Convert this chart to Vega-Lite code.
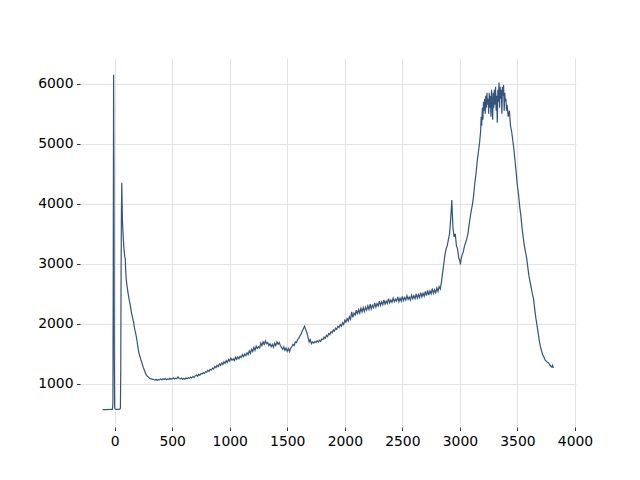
{
"$schema": "https://vega.github.io/schema/vega-lite/v6.json",
"width": 496, "height": 369,
"autosize": {"type": "none"},
"padding": {"left": 80, "top": 58, "right": 64, "bottom": 53},
"background": "white",
"config": {"view": {"stroke": null}, "font": "DejaVu Sans"},
"data": {"values": [
{"x":-105,"y":572},{"x":-95,"y":574},{"x":-85,"y":573},{"x":-75,"y":575},{"x":-65,"y":574},{"x":-55,"y":576},{"x":-45,"y":575},{"x":-35,"y":577},{"x":-25,"y":578},{"x":-18,"y":580},{"x":-15,"y":700},{"x":-12,"y":3000},{"x":-9,"y":6150},{"x":-6,"y":4500},{"x":-3,"y":1500},{"x":0,"y":620},{"x":3,"y":585},{"x":8,"y":580},{"x":15,"y":578},{"x":25,"y":577},{"x":35,"y":578},{"x":45,"y":580},{"x":50,"y":600},{"x":53,"y":1200},{"x":56,"y":2800},{"x":59,"y":3900},{"x":62,"y":4352},{"x":65,"y":4000},{"x":68,"y":3700},{"x":72,"y":3550},{"x":76,"y":3400},{"x":80,"y":3280},{"x":84,"y":3200},{"x":88,"y":3120},{"x":92,"y":3090},{"x":96,"y":2900},{"x":100,"y":2760},{"x":104,"y":2690},{"x":110,"y":2600},{"x":116,"y":2520},{"x":122,"y":2450},{"x":128,"y":2390},{"x":134,"y":2330},{"x":140,"y":2260},{"x":146,"y":2190},{"x":152,"y":2140},{"x":158,"y":2090},{"x":164,"y":2040},{"x":170,"y":1960},{"x":176,"y":1900},{"x":182,"y":1850},{"x":188,"y":1790},{"x":194,"y":1720},{"x":200,"y":1640},{"x":206,"y":1570},{"x":212,"y":1510},{"x":218,"y":1470},{"x":224,"y":1430},{"x":230,"y":1390},{"x":236,"y":1360},{"x":242,"y":1320},{"x":248,"y":1280},{"x":254,"y":1250},{"x":260,"y":1220},{"x":266,"y":1190},{"x":272,"y":1160},{"x":278,"y":1145},{"x":284,"y":1130},{"x":290,"y":1120},{"x":296,"y":1110},{"x":302,"y":1100},{"x":310,"y":1090},{"x":318,"y":1085},{"x":326,"y":1080},{"x":334,"y":1078},{"x":342,"y":1070},{"x":350,"y":1065},{"x":360,"y":1080},{"x":370,"y":1060},{"x":380,"y":1075},{"x":390,"y":1068},{"x":400,"y":1082},{"x":410,"y":1070},{"x":420,"y":1088},{"x":430,"y":1075},{"x":440,"y":1090},{"x":450,"y":1072},{"x":460,"y":1085},{"x":470,"y":1078},{"x":480,"y":1095},{"x":490,"y":1080},{"x":500,"y":1090},{"x":510,"y":1100},{"x":520,"y":1085},{"x":530,"y":1098},{"x":540,"y":1088},{"x":550,"y":1120},{"x":560,"y":1090},{"x":570,"y":1085},{"x":580,"y":1098},{"x":590,"y":1078},{"x":600,"y":1092},{"x":610,"y":1080},{"x":620,"y":1100},{"x":630,"y":1088},{"x":640,"y":1105},{"x":650,"y":1095},{"x":660,"y":1115},{"x":670,"y":1100},{"x":680,"y":1125},{"x":690,"y":1110},{"x":700,"y":1135},{"x":710,"y":1150},{"x":720,"y":1130},{"x":730,"y":1160},{"x":740,"y":1145},{"x":750,"y":1175},{"x":760,"y":1165},{"x":770,"y":1190},{"x":780,"y":1175},{"x":790,"y":1205},{"x":800,"y":1195},{"x":810,"y":1230},{"x":820,"y":1210},{"x":830,"y":1245},{"x":840,"y":1230},{"x":850,"y":1265},{"x":860,"y":1250},{"x":870,"y":1290},{"x":880,"y":1270},{"x":890,"y":1310},{"x":900,"y":1290},{"x":910,"y":1335},{"x":920,"y":1310},{"x":930,"y":1350},{"x":940,"y":1325},{"x":950,"y":1370},{"x":960,"y":1345},{"x":970,"y":1390},{"x":980,"y":1360},{"x":990,"y":1410},{"x":1000,"y":1380},{"x":1010,"y":1430},{"x":1020,"y":1395},{"x":1030,"y":1420},{"x":1040,"y":1390},{"x":1050,"y":1445},{"x":1060,"y":1410},{"x":1070,"y":1450},{"x":1080,"y":1420},{"x":1090,"y":1465},{"x":1100,"y":1440},{"x":1110,"y":1490},{"x":1120,"y":1455},{"x":1130,"y":1500},{"x":1140,"y":1470},{"x":1150,"y":1520},{"x":1160,"y":1490},{"x":1170,"y":1550},{"x":1180,"y":1510},{"x":1190,"y":1580},{"x":1200,"y":1540},{"x":1210,"y":1610},{"x":1220,"y":1560},{"x":1230,"y":1630},{"x":1240,"y":1590},{"x":1250,"y":1620},{"x":1260,"y":1600},{"x":1270,"y":1680},{"x":1280,"y":1640},{"x":1290,"y":1700},{"x":1300,"y":1660},{"x":1310,"y":1720},{"x":1320,"y":1670},{"x":1330,"y":1690},{"x":1340,"y":1640},{"x":1350,"y":1670},{"x":1360,"y":1620},{"x":1370,"y":1660},{"x":1380,"y":1610},{"x":1390,"y":1680},{"x":1400,"y":1640},{"x":1410,"y":1700},{"x":1420,"y":1660},{"x":1430,"y":1690},{"x":1440,"y":1640},{"x":1450,"y":1610},{"x":1460,"y":1580},{"x":1470,"y":1620},{"x":1480,"y":1560},{"x":1490,"y":1600},{"x":1500,"y":1545},{"x":1510,"y":1590},{"x":1520,"y":1540},{"x":1530,"y":1600},{"x":1540,"y":1620},{"x":1550,"y":1660},{"x":1560,"y":1640},{"x":1570,"y":1700},{"x":1580,"y":1690},{"x":1590,"y":1740},{"x":1600,"y":1760},{"x":1610,"y":1800},{"x":1620,"y":1830},{"x":1630,"y":1880},{"x":1640,"y":1920},{"x":1650,"y":1960},{"x":1660,"y":1910},{"x":1670,"y":1860},{"x":1680,"y":1780},{"x":1690,"y":1700},{"x":1700,"y":1740},{"x":1710,"y":1670},{"x":1720,"y":1700},{"x":1730,"y":1680},{"x":1740,"y":1710},{"x":1750,"y":1690},{"x":1760,"y":1720},{"x":1770,"y":1700},{"x":1780,"y":1730},{"x":1790,"y":1710},{"x":1800,"y":1750},{"x":1810,"y":1740},{"x":1820,"y":1780},{"x":1830,"y":1760},{"x":1840,"y":1810},{"x":1850,"y":1790},{"x":1860,"y":1840},{"x":1870,"y":1820},{"x":1880,"y":1870},{"x":1890,"y":1850},{"x":1900,"y":1900},{"x":1910,"y":1880},{"x":1920,"y":1930},{"x":1930,"y":1910},{"x":1940,"y":1960},{"x":1950,"y":1940},{"x":1960,"y":1990},{"x":1970,"y":1960},{"x":1980,"y":2020},{"x":1990,"y":1990},{"x":2000,"y":2060},{"x":2010,"y":2030},{"x":2020,"y":2090},{"x":2030,"y":2050},{"x":2040,"y":2120},{"x":2050,"y":2080},{"x":2060,"y":2200},{"x":2070,"y":2110},{"x":2080,"y":2180},{"x":2090,"y":2150},{"x":2100,"y":2230},{"x":2110,"y":2160},{"x":2120,"y":2240},{"x":2130,"y":2180},{"x":2140,"y":2260},{"x":2150,"y":2200},{"x":2160,"y":2270},{"x":2170,"y":2210},{"x":2180,"y":2280},{"x":2190,"y":2230},{"x":2200,"y":2300},{"x":2210,"y":2240},{"x":2220,"y":2330},{"x":2230,"y":2250},{"x":2240,"y":2310},{"x":2250,"y":2270},{"x":2260,"y":2350},{"x":2270,"y":2280},{"x":2280,"y":2340},{"x":2290,"y":2300},{"x":2300,"y":2380},{"x":2310,"y":2310},{"x":2320,"y":2370},{"x":2330,"y":2320},{"x":2340,"y":2400},{"x":2350,"y":2330},{"x":2360,"y":2380},{"x":2370,"y":2340},{"x":2380,"y":2420},{"x":2390,"y":2350},{"x":2400,"y":2400},{"x":2410,"y":2360},{"x":2420,"y":2430},{"x":2430,"y":2370},{"x":2440,"y":2410},{"x":2450,"y":2380},{"x":2460,"y":2450},{"x":2470,"y":2370},{"x":2480,"y":2430},{"x":2490,"y":2380},{"x":2500,"y":2460},{"x":2510,"y":2390},{"x":2520,"y":2440},{"x":2530,"y":2400},{"x":2540,"y":2470},{"x":2550,"y":2410},{"x":2560,"y":2450},{"x":2570,"y":2400},{"x":2580,"y":2480},{"x":2590,"y":2420},{"x":2600,"y":2470},{"x":2610,"y":2420},{"x":2620,"y":2500},{"x":2630,"y":2430},{"x":2640,"y":2490},{"x":2650,"y":2440},{"x":2660,"y":2520},{"x":2670,"y":2450},{"x":2680,"y":2510},{"x":2690,"y":2460},{"x":2700,"y":2540},{"x":2710,"y":2470},{"x":2720,"y":2560},{"x":2730,"y":2480},{"x":2740,"y":2550},{"x":2750,"y":2500},{"x":2760,"y":2590},{"x":2770,"y":2510},{"x":2780,"y":2570},{"x":2790,"y":2520},{"x":2800,"y":2600},{"x":2810,"y":2540},{"x":2820,"y":2620},{"x":2830,"y":2580},{"x":2840,"y":2700},{"x":2850,"y":2850},{"x":2860,"y":3000},{"x":2870,"y":3150},{"x":2880,"y":3250},{"x":2890,"y":3300},{"x":2900,"y":3400},{"x":2910,"y":3500},{"x":2920,"y":3750},{"x":2930,"y":4064},{"x":2935,"y":3800},{"x":2940,"y":3600},{"x":2950,"y":3450},{"x":2960,"y":3500},{"x":2970,"y":3300},{"x":2980,"y":3250},{"x":2990,"y":3100},{"x":3000,"y":3050},{"x":3005,"y":2990},{"x":3010,"y":3080},{"x":3020,"y":3150},{"x":3030,"y":3200},{"x":3040,"y":3300},{"x":3050,"y":3350},{"x":3060,"y":3420},{"x":3070,"y":3500},{"x":3080,"y":3650},{"x":3090,"y":3780},{"x":3100,"y":3900},{"x":3110,"y":4000},{"x":3120,"y":4150},{"x":3130,"y":4350},{"x":3140,"y":4500},{"x":3150,"y":4700},{"x":3160,"y":4850},{"x":3170,"y":5000},{"x":3180,"y":5200},{"x":3185,"y":5450},{"x":3190,"y":5300},{"x":3195,"y":5600},{"x":3200,"y":5400},{"x":3205,"y":5700},{"x":3210,"y":5550},{"x":3215,"y":5750},{"x":3220,"y":5500},{"x":3225,"y":5800},{"x":3230,"y":5600},{"x":3235,"y":5850},{"x":3240,"y":5650},{"x":3245,"y":5750},{"x":3250,"y":5500},{"x":3255,"y":5850},{"x":3260,"y":5600},{"x":3265,"y":5800},{"x":3270,"y":5450},{"x":3275,"y":5900},{"x":3280,"y":5700},{"x":3285,"y":5400},{"x":3290,"y":5850},{"x":3295,"y":5600},{"x":3300,"y":5900},{"x":3305,"y":5650},{"x":3310,"y":5950},{"x":3315,"y":5550},{"x":3320,"y":5800},{"x":3325,"y":5350},{"x":3330,"y":5900},{"x":3335,"y":5700},{"x":3340,"y":6020},{"x":3345,"y":5600},{"x":3350,"y":5950},{"x":3355,"y":5750},{"x":3360,"y":5900},{"x":3365,"y":5500},{"x":3370,"y":5950},{"x":3375,"y":5800},{"x":3380,"y":5980},{"x":3385,"y":5550},{"x":3390,"y":5850},{"x":3395,"y":5700},{"x":3400,"y":5750},{"x":3405,"y":5550},{"x":3410,"y":5650},{"x":3420,"y":5450},{"x":3430,"y":5550},{"x":3440,"y":5300},{"x":3450,"y":5200},{"x":3460,"y":5050},{"x":3470,"y":4900},{"x":3480,"y":4700},{"x":3490,"y":4500},{"x":3500,"y":4300},{"x":3510,"y":4150},{"x":3520,"y":3950},{"x":3530,"y":3800},{"x":3540,"y":3600},{"x":3550,"y":3450},{"x":3560,"y":3300},{"x":3570,"y":3200},{"x":3580,"y":3100},{"x":3590,"y":2950},{"x":3600,"y":2800},{"x":3610,"y":2700},{"x":3620,"y":2600},{"x":3630,"y":2500},{"x":3640,"y":2420},{"x":3650,"y":2250},{"x":3660,"y":2100},{"x":3670,"y":1980},{"x":3680,"y":1850},{"x":3690,"y":1720},{"x":3700,"y":1620},{"x":3710,"y":1550},{"x":3720,"y":1480},{"x":3730,"y":1450},{"x":3740,"y":1400},{"x":3750,"y":1380},{"x":3760,"y":1360},{"x":3770,"y":1350},{"x":3780,"y":1320},{"x":3790,"y":1300},{"x":3800,"y":1280},{"x":3805,"y":1310},{"x":3813,"y":1270}
]},
"mark": {"type": "line", "color": "#34547a", "strokeWidth": 1.2, "clip": true},
"encoding": {
  "x": {"field": "x", "type": "quantitative", "scale": {"domain": [-301, 4009], "nice": false, "zero": false},
    "axis": {"title": null, "format": "d", "values": [0,500,1000,1500,2000,2500,3000,3500,4000], "domain": false, "ticks": true, "tickSize": 3.5, "tickColor": "black", "tickWidth": 0.8, "labelPadding": 3.5, "labelFontSize": 13.9, "labelColor": "black", "labelFont": "DejaVu Sans", "grid": true, "gridColor": "#e3e3e3", "gridWidth": 1, "labelFlush": false}},
  "y": {"field": "y", "type": "quantitative", "scale": {"domain": [284, 6428], "nice": false, "zero": false},
    "axis": {"title": null, "format": "d", "values": [1000,2000,3000,4000,5000,6000], "domain": false, "ticks": true, "tickSize": 3.5, "tickColor": "black", "tickWidth": 0.8, "labelPadding": 3.5, "labelFontSize": 13.9, "labelColor": "black", "labelFont": "DejaVu Sans", "grid": true, "gridColor": "#e3e3e3", "gridWidth": 1, "labelFlush": false}}
}
}
